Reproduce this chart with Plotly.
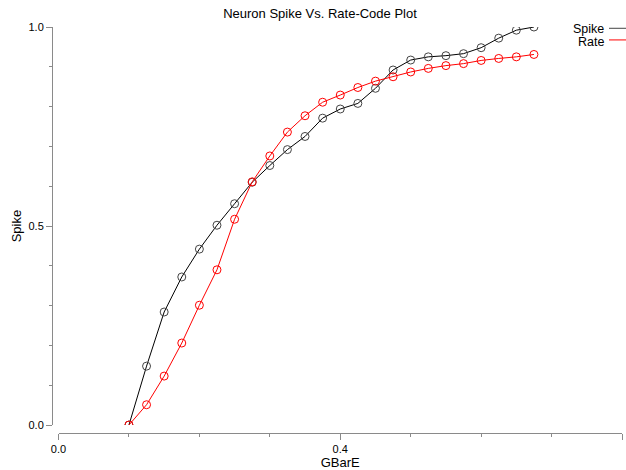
import plotly.graph_objects as go

gbare = [0.1 + 0.025 * i for i in range(24)]
spike = [0.0, 0.148, 0.284, 0.372, 0.442, 0.502, 0.556, 0.610, 0.652, 0.692,
         0.725, 0.771, 0.794, 0.808, 0.846, 0.892, 0.917, 0.925, 0.928, 0.933,
         0.948, 0.972, 0.992, 1.0]
rate = [0.0, 0.051, 0.123, 0.206, 0.301, 0.390, 0.517, 0.611, 0.676, 0.736,
        0.777, 0.811, 0.829, 0.848, 0.864, 0.875, 0.887, 0.896, 0.903, 0.908,
        0.916, 0.921, 0.925, 0.931]

FONT = "Liberation Sans, Arial, Helvetica, sans-serif"
AX = "#8a8a8a"

fig = go.Figure()
fig.add_trace(go.Scatter(x=gbare, y=spike, mode="lines+markers", name="Spike",
                         line=dict(color="black", width=1),
                         marker=dict(symbol="circle-open", size=8, color="#444",
                                     line=dict(width=1, color="#444"))))
fig.add_trace(go.Scatter(x=gbare, y=rate, mode="lines+markers", name="Rate",
                         line=dict(color="red", width=1),
                         marker=dict(symbol="circle-open", size=8, color="red",
                                     line=dict(width=1, color="red"))))

W, H = 626, 470
L, R, T, B = 52, 4, 27, 35
pw, ph = W - L - R, H - T - B

fig.update_layout(
    width=W, height=H,
    margin=dict(l=L, r=R, t=T, b=B),
    plot_bgcolor="white", paper_bgcolor="white",
    showlegend=False,
    font=dict(family=FONT, size=11, color="black"),
    title=dict(text="Neuron Spike Vs. Rate-Code Plot", font=dict(size=13),
               x=320 / W, xref="container", xanchor="center",
               y=1 - 13 / H, yref="container", yanchor="middle"),
    xaxis=dict(range=[0, 0.8], domain=[6.5 / pw, 1], anchor="free", position=0,
               showgrid=False, zeroline=False, showline=True, linecolor=AX, linewidth=1,
               tickmode="array", tickvals=[0, 0.4, 0.8], tickformat=".1f",
               ticks="outside", ticklen=6, tickcolor=AX,
               minor=dict(dtick=0.1, ticks="outside", ticklen=3, tickcolor=AX, showgrid=False),
               title=dict(text="GBarE", font=dict(size=13), standoff=2)),
    yaxis=dict(range=[0, 1], domain=[8 / ph, 1], anchor="free", position=0,
               showgrid=False, zeroline=False, showline=True, linecolor=AX, linewidth=1,
               tickmode="array", tickvals=[0, 0.5, 1.0], tickformat=".1f",
               ticks="outside", ticklen=6, tickcolor=AX,
               minor=dict(dtick=0.1, ticks="outside", ticklen=3, tickcolor=AX, showgrid=False),
               title=dict(text="Spike", font=dict(size=13), standoff=2)),
)

# legend drawn as text followed by a line sample
for name, color, yc, yl in [("Spike", "black", 29.2, 28.3), ("Rate", "red", 42.2, 40)]:
    fig.add_annotation(text=name, xref="paper", yref="paper",
                       x=(605.7 - L) / pw, y=(H - B - yc) / ph,
                       xanchor="right", yanchor="middle", showarrow=False,
                       font=dict(size=12.5, color="black"))
    fig.add_shape(type="line", xref="paper", yref="paper",
                  x0=(609 - L) / pw, x1=(630 - L) / pw,
                  y0=(H - B - yl) / ph, y1=(H - B - yl) / ph,
                  line=dict(color=color if color == "red" else "#444", width=1))

fig.write_html("out.html")
